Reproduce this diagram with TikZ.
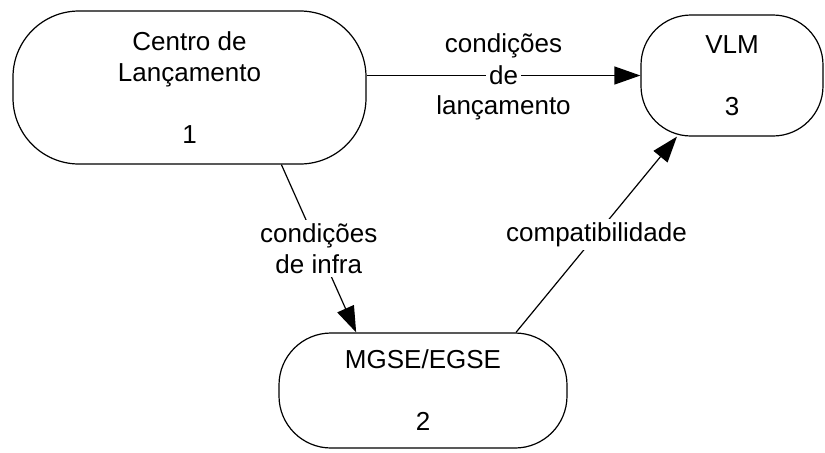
\documentclass[tikz,border=0pt]{standalone}
\usepackage{fontspec}
\setmainfont{Liberation Sans}
\usetikzlibrary{arrows.meta,positioning}

\begin{document}
\begin{tikzpicture}[
    x=0.5pt,
    y=-0.5pt,
    every node/.style={font=\fontsize{13}{15.5}\selectfont},
    proc/.style={draw=black, line width=0.6pt, align=center, inner sep=0pt},
    flow/.style={-{Triangle[length=13pt,width=9pt]}, draw=black, line width=0.6pt},
    lbl/.style={fill=white, inner sep=1.5pt, align=center},
    plainlbl/.style={inner sep=0pt, align=center}
  ]
    \useasboundingbox (0,0) rectangle (825,452);

    \node[proc, minimum width=176.5pt, minimum height=76.5pt, rounded corners=33pt]
      (centro) at (189.5,87.5) {Centro de\\Lançamento\\[15.5pt]1};
    \node[proc, minimum width=91pt, minimum height=60.5pt, rounded corners=25pt]
      (vlm) at (732,75.5) {VLM\\[15.5pt]3};
    \node[proc, minimum width=144pt, minimum height=57.5pt, rounded corners=26pt]
      (mgse) at (423,390.5) {MGSE/EGSE\\[15.5pt]2};

    \draw[flow] (centro.east |- vlm.west) -- (vlm.west)
      node[midway, lbl] (de) {de}
      node[midway, plainlbl, yshift=15pt] (lanc1) {condições}
      node[midway, plainlbl, yshift=-16pt] (lanc2) {lançamento};

    \draw[flow] (centro.-40) -- (mgse.139)
      node[midway, lbl] (infra) {condições\\de infra};

    \draw[flow] (mgse.32.6) -- (vlm.228)
      node[midway, lbl] (compat) {compatibilidade};
  \end{tikzpicture}
\end{document}
